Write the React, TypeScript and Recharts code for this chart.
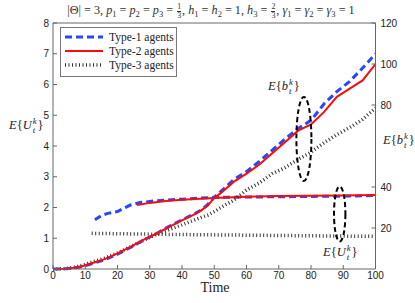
import React from "react";
import { ComposedChart, Line, XAxis, YAxis, ReferenceDot, ReferenceLine } from "recharts";

// E{b_t^k} (right axis), sampled on a common time grid
const time = [0, 4, 8, 12, 16, 20, 24, 28, 32, 36, 40, 44, 46, 48, 50, 52, 56, 60, 64, 68, 72, 76, 80, 84, 88, 92, 96, 100];
const type1Bid = [0, 0.1, 0.8, 2.5, 4.5, 7.2, 10.5, 14, 17.2, 20.8, 24, 27, 28.8, 31.5, 35, 37.8, 43.5, 47.5, 52.5, 58, 63.5, 68.5, 72.5, 80.5, 86.5, 91.5, 98, 105];
const type2Bid = [0, 0.1, 0.9, 2.8, 4.8, 7.6, 10.8, 14.2, 17.2, 20.5, 23.7, 26.8, 28.6, 31, 34.7, 37, 42.5, 46.5, 51, 56.5, 62, 67.5, 70.5, 76.5, 84, 88, 92, 100];
const type3Bid = [0, 0.2, 1.3, 3.3, 5.3, 7.8, 10.8, 14, 16.8, 19.2, 21.5, 24, 25.2, 26.3, 28, 30, 33.5, 38.5, 42, 46.5, 49.5, 53.5, 57, 61.5, 65.5, 69, 73, 78.5];

// E{U_t^k} (left axis)
const type1UtilTime = [13, 15, 17, 20, 22, 24, 27, 32, 40, 50, 60, 70, 80, 90, 100];
const type1Util = [1.6, 1.74, 1.81, 1.87, 1.98, 2.08, 2.16, 2.22, 2.27, 2.33, 2.34, 2.35, 2.36, 2.37, 2.39];
const type2UtilTime = [26, 30, 35, 40, 50, 60, 70, 80, 90, 100];
const type2Util = [2.08, 2.15, 2.21, 2.25, 2.31, 2.35, 2.37, 2.38, 2.39, 2.41];
const type3UtilTime = [12, 25, 40, 60, 80, 100];
const type3Util = [1.16, 1.14, 1.12, 1.1, 1.08, 1.06];

const xTicks = [0, 10, 20, 30, 40, 50, 60, 70, 80, 90, 100];
const leftTicks = [0, 1, 2, 3, 4, 5, 6, 7, 8];
const rightTicks = [20, 40, 80, 100, 120];

const pts = (ts: number[], vs: number[]) => ts.map((t, i) => ({ t, v: vs[i] }));

const axisColor = "#666";
const tickFont = { fontFamily: "Liberation Sans", fontSize: 10, fill: "#222" };
const serif = "Liberation Serif";

const styles = {
  type1: { stroke: "#2447ff", strokeWidth: 3, strokeDasharray: "7 4" },
  type2: { stroke: "#ff0a0a", strokeWidth: 2, strokeDasharray: undefined },
  type3: { stroke: "#333", strokeWidth: 3.5, strokeDasharray: "1 2.5" },
};

const LeftTick = (p: any) => (
  <g>
    <text x={p.x} y={p.y} dy="0.35em" textAnchor="end" {...tickFont}>{p.payload.value}</text>
    <line x1={p.x + 4} x2={p.x + 8} y1={p.y} y2={p.y} stroke={axisColor} />
  </g>
);
const RightTick = (p: any) => (
  <g>
    <text x={p.x} y={p.y} dy="0.35em" textAnchor="start" {...tickFont}>{p.payload.value}</text>
    <line x1={p.x - 5} x2={p.x - 9} y1={p.y} y2={p.y} stroke={axisColor} />
  </g>
);
const BottomTick = (p: any) => (
  <g>
    <text x={p.x} y={p.y} dy="0.71em" textAnchor="middle" {...tickFont}>{p.payload.value}</text>
    <line x1={p.x} x2={p.x} y1={p.y - 3} y2={p.y - 7} stroke={axisColor} />
  </g>
);
const TopTick = (p: any) => (
  <line x1={p.x} x2={p.x} y1={p.y} y2={p.y + 4} stroke={axisColor} />
);

const Ellipse = (rx: number, ry: number) => (p: any) => (
  <ellipse cx={p.cx} cy={p.cy} rx={rx} ry={ry} fill="none" stroke="#000" strokeWidth={2} strokeDasharray="5 3" />
);

const SubSup = ({ sub, sup }: { sub: string; sup: string }) => (
  <span style={{ display: "inline-flex", flexDirection: "column", fontSize: "0.7em", lineHeight: "1em", verticalAlign: "0.55em", margin: "0 1px" }}>
    <i>{sup}</i>
    <i>{sub}</i>
  </span>
);
const Expect = ({ v }: { v: string }) => (
  <span style={{ fontFamily: serif, whiteSpace: "nowrap" }}>
    <i>E</i>{"{"}<i>{v}</i><SubSup sub="t" sup="k" />{"}"}
  </span>
);
const Frac = ({ n, d }: { n: string; d: string }) => (
  <span style={{ display: "inline-flex", flexDirection: "column", fontSize: "0.65em", lineHeight: "1em", verticalAlign: "0.6em", textAlign: "center", margin: "0 1px" }}>
    <span style={{ borderBottom: "0.5px solid #333" }}>{n}</span>
    <span>{d}</span>
  </span>
);
const V = ({ s, i }: { s: string; i: string }) => (
  <span><i>{s}</i><sub style={{ fontSize: "0.7em", lineHeight: 0 }}>{i}</sub></span>
);

const legendItems = [
  { name: "Type-1 agents", style: styles.type1 },
  { name: "Type-2 agents", style: styles.type2 },
  { name: "Type-3 agents", style: styles.type3 },
];

export default function App() {
  return (
    <div style={{ position: "absolute", left: 0, top: 0, width: 415, height: 303, background: "#fff", fontFamily: serif }}>
      <ComposedChart width={415} height={303} margin={{ top: 23, right: 10, bottom: 4, left: 23 }}>
        <XAxis xAxisId="top" orientation="top" type="number" dataKey="t" domain={[0, 100]} ticks={xTicks} height={0}
          tick={TopTick} tickLine={false} tickSize={0} tickMargin={0} axisLine={{ stroke: axisColor }} />
        <XAxis type="number" dataKey="t" domain={[0, 100]} ticks={xTicks} allowDataOverflow height={30}
          tick={BottomTick} tickLine={false} tickSize={0} tickMargin={3} axisLine={{ stroke: axisColor }} />
        <YAxis yAxisId="left" type="number" domain={[0, 8]} ticks={leftTicks} width={30}
          tick={LeftTick} tickLine={false} tickSize={0} tickMargin={4} axisLine={{ stroke: axisColor }} />
        <YAxis yAxisId="right" orientation="right" type="number" domain={[0, 120]} ticks={rightTicks} width={29.5}
          tick={RightTick} tickLine={false} tickSize={0} tickMargin={5} axisLine={{ stroke: axisColor }} />
        <ReferenceLine yAxisId="left" y={8} stroke={axisColor} />

        <Line yAxisId="left" data={pts(type1UtilTime, type1Util)} dataKey="v" name="Type-1 agents" dot={false} isAnimationActive={false} {...styles.type1} />
        <Line yAxisId="left" data={pts(type2UtilTime, type2Util)} dataKey="v" name="Type-2 agents" dot={false} isAnimationActive={false} {...styles.type2} />
        <Line yAxisId="left" data={pts(type3UtilTime, type3Util)} dataKey="v" name="Type-3 agents" dot={false} isAnimationActive={false} {...styles.type3} />
        <Line yAxisId="right" data={pts(time, type3Bid)} dataKey="v" dot={false} isAnimationActive={false} {...styles.type3} />
        <Line yAxisId="right" data={pts(time, type1Bid)} dataKey="v" dot={false} isAnimationActive={false} {...styles.type1} />
        <Line yAxisId="right" data={pts(time, type2Bid)} dataKey="v" dot={false} isAnimationActive={false} {...styles.type2} />

        <ReferenceDot yAxisId="left" x={77.8} y={4.23} shape={Ellipse(7.5, 42)} />
        <ReferenceDot yAxisId="left" x={88.9} y={1.79} shape={Ellipse(5.7, 27.5)} />
      </ComposedChart>

      {/* title */}
      <div style={{ position: "absolute", left: 0, width: 422, top: 3, textAlign: "center", fontFamily: serif, fontSize: 12.2, color: "#333", whiteSpace: "nowrap" }}>
        |Θ| = 3, <V s="p" i="1" /> = <V s="p" i="2" /> = <V s="p" i="3" /> = <Frac n="1" d="3" />, <V s="h" i="1" /> = <V s="h" i="2" /> = 1, <V s="h" i="3" /> = <Frac n="2" d="3" />, <V s="γ" i="1" /> = <V s="γ" i="2" /> = <V s="γ" i="3" /> = 1
      </div>

      {/* legend */}
      <div style={{ position: "absolute", left: 60, top: 27, width: 115, height: 48, border: "1px solid #777", background: "#fff", fontFamily: serif, fontSize: 11.5, color: "#222" }}>
        {legendItems.map((it, i) => (
          <div key={it.name} style={{ position: "absolute", left: 4, top: 2 + i * 14.2, height: 14, display: "flex", alignItems: "center" }}>
            <svg width={38} height={8} style={{ marginRight: 6 }}>
              <line x1={0} x2={38} y1={4} y2={4} stroke={it.style.stroke} strokeWidth={it.style.strokeWidth} strokeDasharray={it.style.strokeDasharray} />
            </svg>
            <span>{it.name}</span>
          </div>
        ))}
      </div>

      {/* axis labels */}
      <div style={{ position: "absolute", left: 9, top: 117, fontSize: 12.5, color: "#222" }}><Expect v="U" /></div>
      <div style={{ position: "absolute", left: 383, top: 132, fontSize: 12.5, color: "#222" }}><Expect v="b" /></div>
      <div style={{ position: "absolute", left: 0, width: 430, top: 280, textAlign: "center", fontFamily: serif, fontSize: 14, color: "#222" }}>Time</div>

      {/* annotations */}
      <div style={{ position: "absolute", left: 268, top: 78, fontSize: 12.5, color: "#222" }}><Expect v="b" /></div>
      <div style={{ position: "absolute", left: 323, top: 244, fontSize: 12.5, color: "#222" }}><Expect v="U" /></div>
    </div>
  );
}
